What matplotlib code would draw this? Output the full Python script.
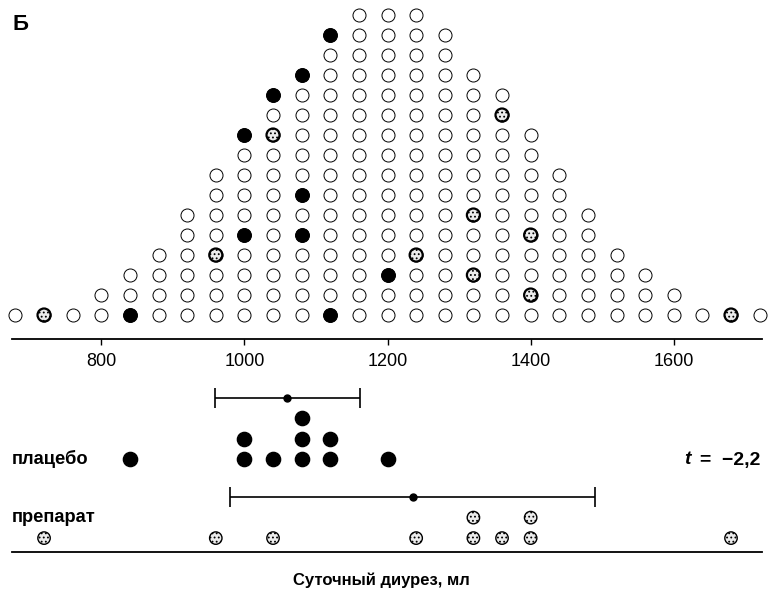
import numpy as np
import matplotlib
matplotlib.use('Agg')
import matplotlib.pyplot as plt
from matplotlib import font_manager

# Bins of the whole population (ml/day) and number of people in each
bins = [680, 720, 760, 800, 840, 880, 920, 960, 1000, 1040, 1080, 1120, 1160, 1200,
        1240, 1280, 1320, 1360, 1400, 1440, 1480, 1520, 1560, 1600, 1640, 1680, 1720]
counts = [1, 1, 1, 2, 3, 4, 6, 8, 10, 12, 13, 15, 16, 16,
          16, 15, 13, 12, 10, 8, 6, 4, 3, 2, 1, 1, 1]

# placebo sample: value and the row in the population column where it sits
placebo = [840, 1000, 1000, 1040, 1080, 1080, 1080, 1120, 1120, 1200]
placebo_rows = [0, 4, 9, 11, 4, 6, 12, 0, 14, 2]

# drug sample
drug = [720, 960, 1040, 1240, 1320, 1320, 1360, 1400, 1400, 1680]
drug_rows = [0, 3, 9, 3, 2, 5, 10, 1, 4, 0]

# mean and SD as drawn (placebo, drug)
means = [1060, 1235]
sds = [101, 255]

ticks = [800, 1000, 1200, 1400, 1600]

plt.rcParams['font.family'] = ['Liberation Sans', 'DejaVu Sans']
plt.rcParams['hatch.linewidth'] = 0.8
plt.rcParams['hatch.color'] = '0.25'

# condensed bold for the labels if there is one
names = {f.name for f in font_manager.fontManager.ttflist}
if 'Liberation Sans Narrow' in names:
    bold = ['Liberation Sans Narrow', 'DejaVu Sans']
    k = 1.0
else:
    bold = ['Liberation Sans', 'DejaVu Sans']
    k = 0.83

XLIM = (675.2, 1723.3)

fig = plt.figure(figsize=(7.68, 5.93), dpi=100)

# ---- population ----
ax1 = fig.add_axes([0.0156, 0.4283, 0.9766, 0.5666])
px, py = [], []
for b, c in zip(bins, counts):
    for r in range(c):
        px.append(b)
        py.append(r)
ax1.scatter(px, py, s=88, facecolor='white', edgecolor='black', linewidth=0.7,
            zorder=2, clip_on=False)
ax1.scatter(placebo, placebo_rows, s=100, facecolor='black', edgecolor='black',
            linewidth=0.7, zorder=3, clip_on=False)
ax1.scatter(drug, drug_rows, s=88, facecolor='#ececec', edgecolor='black', linewidth=1.6,
            hatch='....', zorder=3, clip_on=False)

ax1.set_xlim(XLIM)
ax1.set_ylim(-1.2, 15.6)
for s in ['top', 'right', 'left']:
    ax1.spines[s].set_visible(False)
ax1.spines['bottom'].set_linewidth(1.3)
ax1.set_yticks([])
ax1.set_xticks(ticks)
ax1.tick_params(axis='x', direction='out', length=4, width=1, pad=6, labelsize=13)

# ---- samples ----
ax2 = fig.add_axes([0.0156, 0.0691, 0.9766, 0.2816])
ax2.set_xlim(XLIM)
ax2.set_ylim(0, 8.15)
for s in ['top', 'right', 'left']:
    ax2.spines[s].set_visible(False)
ax2.spines['bottom'].set_linewidth(1.3)
ax2.set_xticks([])
ax2.set_yticks([])

drug_base = 0.68
placebo_base = 4.54

def stack(vals, base):
    seen = {}
    ys = []
    for v in vals:
        n = seen.get(v, 0)
        ys.append(base + n)
        seen[v] = n + 1
    return ys, max(seen.values())

py_s, p_h = stack(placebo, placebo_base)
dy_s, d_h = stack(drug, drug_base)

ax2.scatter(placebo, py_s, s=105, facecolor='black', edgecolor='black', zorder=3)
ax2.scatter(drug, dy_s, s=80, facecolor='#ececec', edgecolor='black', linewidth=1.0,
            hatch='....', zorder=3)

# mean +- SD bars
for m, sd, base, h in [(means[0], sds[0], placebo_base, p_h), (means[1], sds[1], drug_base, d_h)]:
    ax2.errorbar([m], [base + h], xerr=[sd], fmt='o', color='black', ms=5,
                 elinewidth=1.2, capsize=7, capthick=1.2)

fs = 16 * k
fig.text(12 / 768, 1 - 459 / 593, 'плацебо', family=bold, fontweight='bold',
         fontsize=fs, ha='left', va='center')
fig.text(12 / 768, 1 - 517 / 593, 'препарат', family=bold, fontweight='bold',
         fontsize=fs, ha='left', va='center')
fig.text(684 / 768, 1 - 460 / 593, 't', family=bold, fontweight='bold', fontstyle='italic',
         fontsize=fs * 1.05, ha='left', va='center')
fig.text(760 / 768, 1 - 460 / 593, '=  \u22122,2', family=bold, fontweight='bold',
         fontsize=fs * 1.05, ha='right', va='center')
fig.text(381 / 768, 1 - 580 / 593, 'Суточный диурез, мл', family=bold, fontweight='bold',
         fontsize=15.5 * k * 0.93, ha='center', va='center')
fig.text(13 / 768, 1 - 25 / 593, 'Б', family=bold, fontweight='bold',
         fontsize=16, ha='left', va='center')

plt.savefig('out.png', dpi=100)
